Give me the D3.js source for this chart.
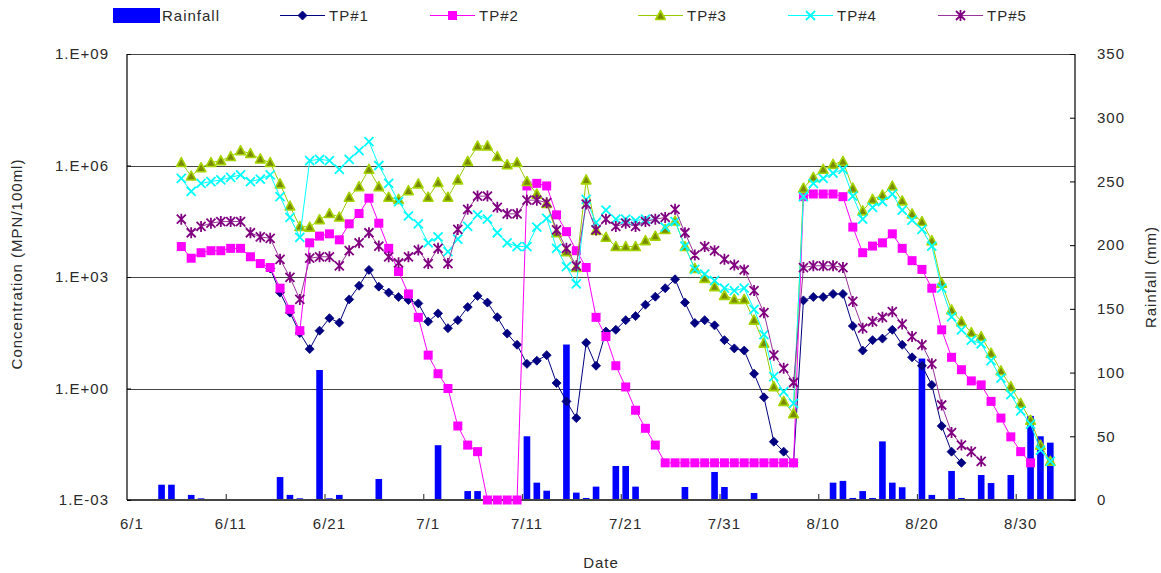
<!DOCTYPE html>
<html>
<head>
<meta charset="utf-8">
<script src="https://cdn.jsdelivr.net/npm/d3@7"></script>
<style>
  html, body { margin: 0; padding: 0; background: #fff; }
  svg text { font-family: "Liberation Sans", Arial, sans-serif; fill: #2a2a2a; letter-spacing: 1px; }
</style>
</head>
<body>
<svg id="chart" width="1161" height="573"></svg>
<script>
// ---- Calendar: one category per day, 6/1 through 9/4 ----
const monthLengths = [[6, 30], [7, 31], [8, 31], [9, 4]];
const categories = [];
monthLengths.forEach(([m, n]) => { for (let d = 1; d <= n; d++) categories.push(m + "/" + d); });

// Sampling days (6/6 .. 9/3)
const sampleDays = categories.slice(5, 94);

// Labelled dates on the x axis
const tickLabels = ["6/1", "6/11", "6/21", "7/1", "7/11", "7/21", "7/31", "8/10", "8/20", "8/30"];

// Left axis (log) tick values and labels
const concTicks = [1e-3, 1e0, 1e3, 1e6, 1e9];
const concTickLabels = ["1.E-03", "1.E+00", "1.E+03", "1.E+06", "1.E+09"];
// Right axis ticks
const rainTicks = [0, 50, 100, 150, 200, 250, 300, 350];

// Daily rainfall (mm), one value per category
const rainfall = [
  0, 0, 0, 12, 12, 0, 4, 1.3, 0, 0,
  0, 0, 0, 0, 0, 18, 4, 1.3, 0, 102,
  1.3, 4, 0, 0, 0, 16.5, 0, 0, 0, 0,
  0, 43, 0, 0, 7, 7, 0, 0, 0, 0,
  50, 13.6, 7.3, 0, 122, 5.8, 1.6, 10.5, 0, 26.7,
  26.7, 10.5, 0, 0, 0, 0, 10.2, 0, 0, 22,
  10.2, 0, 0, 5.5, 0, 0, 0, 0, 0, 0,
  0, 13.6, 15, 1.6, 7, 1.6, 46, 13.6, 10, 0,
  111, 4, 0, 22.8, 1.6, 0, 19.6, 13.3, 0, 19.6,
  0, 66, 50, 45, 0, 0
];

// Concentrations (MPN/100ml), one value per sampling day, null = not sampled
const tp1 = [
  null, null, null, null, null, null, null, null, null,
  1700, 380, 110, 31, 11.5, 36, 78, 59, 250, 580,
  1550, 550, 380, 290, 240, 195, 63, 105, 42, 69,
  155, 310, 205, 83, 30, 15, 4.6, 5.6, 7.9, 1.4,
  0.45, 0.16, 17, 4.1, 34, 38, 69, 89, 180, 295,
  500, 870, 205, 58, 69, 50, 20, 12, 10.5, 2.5,
  0.58, 0.037, 0.02, 0.01, 235, 290, 290, 350, 350, 48,
  10.5, 20, 22, 38, 15, 6.9, 4.1, 1.25, 0.098, 0.02, 0.01,
  null, null, null, null, null, null, null, null, null
];
const tp2 = [
  6600, 3200, 4500, 5100, 5100, 5900, 5900, 3500, 2300, 1800,
  500, 135, 36, 8300, 12600, 14500, 10000, 27000, 51000, 132000,
  28000, 5900, 1400, 350, 82, 7.9, 2.5, 1.0, 0.098, 0.03,
  0.02, 0.001, 0.001, 0.001, 0.001, 282000, 331000, 282000, 47000, 16600,
  5100, 1800, 82, 25, 4.1, 1.1, 0.26, 0.085, 0.03, 0.01,
  0.01, 0.01, 0.01, 0.01, 0.01, 0.01, 0.01, 0.01, 0.01, 0.01, 0.01, 0.01, 0.01,
  145000, 171000, 171000, 171000, 145000, 22000, 4500, 6800, 8300, 14500,
  5900, 2750, 1600, 500, 38, 6.9, 3.2, 1.6, 1.25, 0.45,
  0.16, 0.05, 0.02, 0.01, null, null
];
const tp3 = [
  1.2e6, 5.2e5, 8.7e5, 1.2e6, 1.35e6, 1.74e6, 2.5e6, 2.1e6, 1.5e6, 1.2e6,
  3.2e5, 8.1e4, 2.3e4, 2.2e4, 3.5e4, 5.1e4, 4.1e4, 1.4e5, 2.7e5, 7.9e5,
  2.7e5, 1.4e5, 1.23e5, 2.1e5, 3.2e5, 1.4e5, 3.5e5, 1.4e5, 4.1e5, 1.3e6,
  3.35e6, 3.35e6, 1.74e6, 1.05e6, 1.2e6, 3.7e5, 1.7e5, 9.5e4, 1.55e4, 4800,
  1800, 4.1e5, 1.8e4, 1.17e4, 6600, 6600, 6600, 9500, 1.26e4, 1.9e4,
  3.2e4, 6600, 1700, 920, 550, 320, 250, 250, 69, 16.6,
  1.12, 0.45, 0.21, 2.45e5, 4.8e5, 7.9e5, 1.07e6, 1.3e6, 2.45e5, 6.0e4,
  1.23e5, 1.6e5, 2.8e5, 1.12e5, 5.0e4, 3.1e4, 9500, 680, 130, 63,
  32, 25, 8.9, 3.0, 1.12, 0.40, 0.14, 0.03, 0.011
];
const tp4 = [
  4.5e5, 2.0e5, 3.3e5, 3.7e5, 4.1e5, 4.8e5, 5.6e5, 3.7e5, 4.3e5, 5.6e5,
  1.45e5, 4.0e4, 1.17e4, 1.35e6, 1.47e6, 1.35e6, 7.9e5, 1.47e6, 2.5e6, 4.4e6,
  1.0e6, 3.3e5, 1.07e5, 4.4e4, 2.7e4, 8300, 1.2e4, 4800, 1.04e4, 2.3e4,
  4.7e4, 3.6e4, 1.55e4, 8300, 6600, 6600, 2.2e4, 3.8e4, 5900, 1900,
  650, 1.23e5, 2.9e4, 6.3e4, 3.6e4, 3.6e4, 3.3e4, 3.6e4, 3.6e4, 2.2e4,
  3.1e4, 6800, 1600, 1200, 800, 500, 430, 500, 135, 28,
  2.1, 0.82, 0.40, 1.45e5, 3.3e5, 4.5e5, 6.2e5, 7.9e5, 1.5e5, 3.6e4,
  7.5e4, 1.07e5, 1.7e5, 6.3e4, 3.4e4, 1.9e4, 6800, 500, 85, 38,
  20, 16, 5.6, 1.9, 0.68, 0.25, 0.11, 0.022, 0.011
];
const tp5 = [
  3.6e4, 1.55e4, 2.3e4, 2.8e4, 3.1e4, 3.1e4, 3.1e4, 1.55e4, 1.2e4, 1.1e4,
  3000, 980, 250, 3200, 3500, 3500, 2000, 5100, 8300, 1.55e4,
  6800, 3500, 2400, 3500, 5300, 2300, 5900, 2300, 1.9e4, 6.6e4,
  1.5e5, 1.5e5, 7.5e4, 5.0e4, 5.0e4, 1.17e5, 1.17e5, 1.0e5, 1.85e4, 5900,
  2000, 9.2e4, 1.85e4, 3.6e4, 2.3e4, 2.8e4, 2.3e4, 3.1e4, 3.6e4, 4.0e4,
  6.6e4, 1.55e4, 3900, 6600, 5100, 3000, 2100, 1550, 430, 110,
  7.9, 3.5, 1.45, 1800, 2000, 2000, 2000, 1800, 220, 42,
  63, 82, 117, 54, 25, 15, 4.6, 0.36, 0.065, 0.03,
  0.02, 0.011,
  null, null, null, null, null, null, null
];

const seriesNames = ["TP#1", "TP#2", "TP#3", "TP#4", "TP#5"];
const seriesValues = [tp1, tp2, tp3, tp4, tp5];

// ---- Styling ----
const styles = [
  { line: "#000080", marker: "diamond", fill: "#000080", stroke: "#000080" },
  { line: "#FF00FF", marker: "square",  fill: "#FF00FF", stroke: "#FF00FF" },
  { line: "#99CC00", marker: "triangle", fill: "#7A8A00", stroke: "#A4D400" },
  { line: "#00FFFF", marker: "x",       fill: "none",    stroke: "#00FFFF" },
  { line: "#993399", marker: "star",    fill: "none",    stroke: "#800080" }
];

const FONT = 15;
const plot = { left: 127, right: 1075, top: 54, bottom: 500 };
const svg = d3.select("#chart");
svg.append("rect").attr("width", 1161).attr("height", 573).attr("fill", "#fff");

// ---- Scales ----
const x = d3.scaleBand().domain(categories).range([plot.left, plot.right])
  .paddingInner(0.33).paddingOuter(0.165);
const xCenter = d => x(d) + x.bandwidth() / 2;
const xDay = d3.scaleLinear().domain([0, categories.length]).range([plot.left, plot.right]);
const y = d3.scaleLog().domain([1e-3, 1e9]).range([plot.bottom, plot.top]);
const yRain = d3.scaleLinear().domain([0, 350]).range([plot.bottom, plot.top]);

// ---- Gridlines ----
svg.append("g").selectAll("line").data([1e0, 1e3, 1e6, 1e9]).join("line")
  .attr("x1", plot.left).attr("x2", plot.right)
  .attr("y1", d => Math.round(y(d)) + 0.5).attr("y2", d => Math.round(y(d)) + 0.5)
  .attr("stroke", "#444").attr("stroke-width", 1.2);

// ---- Rainfall bars ----
svg.append("g").selectAll("rect").data(categories.map((c, i) => ({ c, v: rainfall[i] })).filter(d => d.v > 0))
  .join("rect")
  .attr("x", d => x(d.c)).attr("width", x.bandwidth())
  .attr("y", d => yRain(d.v)).attr("height", d => plot.bottom - yRain(d.v))
  .attr("fill", "#0000FF");

// ---- Axes ----
// bottom axis: boundary ticks every 10 days, labels centred on the day
const bottomTicks = d3.axisBottom(xDay).tickValues(d3.range(10, 91, 10)).tickSize(-6).tickFormat("");
const gb = svg.append("g").attr("transform", `translate(0,${plot.bottom})`).call(bottomTicks);
gb.select(".domain").remove();
gb.selectAll("line").attr("stroke", "#444").attr("stroke-width", 1.2);
svg.append("line").attr("x1", plot.left).attr("x2", plot.right + 1)
  .attr("y1", plot.bottom).attr("y2", plot.bottom).attr("stroke", "#444").attr("stroke-width", 2);

const bottomLabels = d3.axisBottom(x).tickValues(tickLabels).tickSize(0).tickPadding(18);
const gbl = svg.append("g").attr("transform", `translate(0,${plot.bottom})`).call(bottomLabels);
gbl.select(".domain").remove();
gbl.selectAll("text").attr("font-size", FONT).attr("font-family", null).attr("fill", "#2a2a2a");

// left axis
const leftAxis = d3.axisLeft(y).tickValues(concTicks).tickFormat((d, i) => concTickLabels[i]).tickSize(-4).tickPadding(18);
const gl = svg.append("g").attr("transform", `translate(${plot.left},0)`).call(leftAxis);
gl.select(".domain").attr("stroke", "#000").attr("stroke-width", 1.2).attr("d", `M0,${plot.top}V${plot.bottom}`);
gl.selectAll("line").attr("stroke", "#000");
gl.selectAll("text").attr("font-size", FONT).attr("font-family", null).attr("fill", "#2a2a2a");

// right axis
const rightAxis = d3.axisRight(yRain).tickValues(rainTicks).tickSize(-5).tickPadding(22);
const gr = svg.append("g").attr("transform", `translate(${plot.right},0)`).call(rightAxis);
gr.select(".domain").attr("stroke", "#000").attr("stroke-width", 1.2).attr("d", `M0,${plot.top}V${plot.bottom}`);
gr.selectAll("line").attr("stroke", "#000");
gr.selectAll("text").attr("font-size", FONT).attr("font-family", null).attr("fill", "#2a2a2a");

// axis titles
svg.append("text").attr("transform", `translate(22,264) rotate(-90)`).attr("text-anchor", "middle")
  .attr("font-size", FONT).text("Concentration (MPN/100ml)");
svg.append("text").attr("transform", `translate(1156,277) rotate(-90)`).attr("text-anchor", "middle")
  .attr("font-size", FONT).text("Rainfall (mm)");
svg.append("text").attr("x", 601).attr("y", 568).attr("text-anchor", "middle")
  .attr("font-size", FONT).text("Date");

// ---- Marker drawing ----
function drawMarker(g, type, cx, cy, st) {
  const s = 4.5;
  if (type === "diamond") {
    g.append("path").attr("d", `M${cx},${cy - s}L${cx + s},${cy}L${cx},${cy + s}L${cx - s},${cy}Z`)
      .attr("fill", st.fill).attr("stroke", st.stroke).attr("stroke-width", 0.8);
  } else if (type === "square") {
    g.append("rect").attr("x", cx - 4.5).attr("y", cy - 4.5).attr("width", 9).attr("height", 9)
      .attr("fill", st.fill);
  } else if (type === "triangle") {
    g.append("path").attr("d", `M${cx},${cy - 5}L${cx + 4.8},${cy + 4}L${cx - 4.8},${cy + 4}Z`)
      .attr("fill", st.fill).attr("stroke", st.stroke).attr("stroke-width", 1.6).attr("stroke-linejoin", "round");
  } else if (type === "x") {
    g.append("path").attr("d", `M${cx - 4.5},${cy - 4.5}L${cx + 4.5},${cy + 4.5}M${cx + 4.5},${cy - 4.5}L${cx - 4.5},${cy + 4.5}`)
      .attr("stroke", st.stroke).attr("stroke-width", 1.8).attr("fill", "none");
  } else if (type === "star") {
    g.append("path").attr("d", `M${cx - 4.5},${cy - 4.5}L${cx + 4.5},${cy + 4.5}M${cx + 4.5},${cy - 4.5}L${cx - 4.5},${cy + 4.5}M${cx},${cy - 5.5}L${cx},${cy + 5.5}`)
      .attr("stroke", st.stroke).attr("stroke-width", 1.8).attr("fill", "none");
  }
}

// ---- Series lines and markers ----
seriesValues.forEach((vals, k) => {
  const st = styles[k];
  const pts = sampleDays.map((c, i) => ({ c, v: vals[i] })).filter(d => d.v != null);
  const g = svg.append("g");
  const line = d3.line().x(d => xCenter(d.c)).y(d => y(d.v));
  g.append("path").datum(pts).attr("d", line).attr("fill", "none")
    .attr("stroke", st.line).attr("stroke-width", 1);
  pts.forEach(d => drawMarker(g, st.marker, xCenter(d.c), y(d.v), st));
});

// ---- Legend ----
const legend = svg.append("g");
legend.append("rect").attr("x", 113).attr("y", 8).attr("width", 47).attr("height", 15).attr("fill", "#0000FF");
legend.append("text").attr("x", 162).attr("y", 21).attr("font-size", FONT).text("Rainfall");
const legendX = [280, 430, 638, 788, 938];
seriesNames.forEach((name, k) => {
  const lx = legendX[k], st = styles[k];
  legend.append("line").attr("x1", lx).attr("x2", lx + 45).attr("y1", 15.5).attr("y2", 15.5)
    .attr("stroke", st.line).attr("stroke-width", 1);
  drawMarker(legend, st.marker, lx + 22.5, 15.5, st);
  legend.append("text").attr("x", lx + 49).attr("y", 21).attr("font-size", FONT).text(name);
});
</script>
</body>
</html>
